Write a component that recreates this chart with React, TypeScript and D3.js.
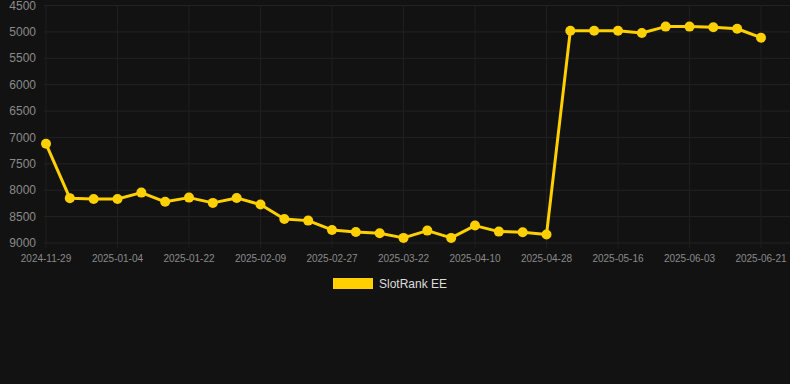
import React from "react";
import * as d3 from "d3";

const dates = [
  "2024-11-29", "2024-12-11", "2024-12-23", "2025-01-04", "2025-01-10", "2025-01-16",
  "2025-01-22", "2025-01-28", "2025-02-03", "2025-02-09", "2025-02-15", "2025-02-21",
  "2025-02-27", "2025-03-07", "2025-03-15", "2025-03-22", "2025-03-29", "2025-04-04",
  "2025-04-10", "2025-04-16", "2025-04-22", "2025-04-28", "2025-05-04", "2025-05-10",
  "2025-05-16", "2025-05-22", "2025-05-28", "2025-06-03", "2025-06-09", "2025-06-15",
  "2025-06-21",
];
const ranks = [
  7120, 8150, 8165, 8165, 8045, 8220, 8140, 8240, 8146, 8272, 8544, 8576,
  8752, 8790, 8815, 8903, 8765, 8903, 8670, 8784, 8795, 8840, 4977, 4977,
  4977, 5020, 4900, 4900, 4913, 4940, 5110,
];
const yTicks = [4500, 5000, 5500, 6000, 6500, 7000, 7500, 8000, 8500, 9000];
const seriesName = "SlotRank EE";

const W = 790;
const H = 384;
const gridLeft = 44;
const gridRight = 790;
const top = 5.5;
const bottom = 243;
const color = "#FFD000";

export default function App() {
  const x = d3.scalePoint<string>().domain(dates).range([46, 761]);
  const y = d3.scaleLinear().domain([4500, 9000]).range([top, bottom]);
  const line = d3
    .line<number>()
    .x((_, i) => x(dates[i]) as number)
    .y((d) => y(d));
  const labeled = dates.filter((_, i) => i % 3 === 0);

  return (
    <svg
      width={W}
      height={H}
      style={{ position: "absolute", left: 0, top: 0, background: "#121212" }}
      fontFamily="Arial, 'Liberation Sans', Helvetica, sans-serif"
    >
      <rect x={0} y={0} width={W} height={H} fill="#121212" />
      {yTicks.map((t) => (
        <line key={"h" + t} x1={gridLeft} x2={gridRight} y1={y(t)} y2={y(t)} stroke="#232323" strokeWidth={1} />
      ))}
      {labeled.map((d) => (
        <line key={"v" + d} x1={x(d)} x2={x(d)} y1={top} y2={bottom + 5} stroke="#1f1f1f" strokeWidth={1} />
      ))}
      {yTicks.map((t) => (
        <text key={"yl" + t} x={36} y={y(t)} dy="0.35em" textAnchor="end" fontSize={12} fill="#8a8a8a">
          {t}
        </text>
      ))}
      {labeled.map((d) => (
        <text key={"xl" + d} x={x(d)} y={262} textAnchor="middle" fontSize={10} fill="#8a8a8a">
          {d}
        </text>
      ))}
      <path d={line(ranks) || ""} fill="none" stroke={color} strokeWidth={3} strokeLinejoin="round" />
      {ranks.map((v, i) => (
        <circle key={"p" + i} cx={x(dates[i])} cy={y(v)} r={5} fill={color} />
      ))}
      <rect x={333} y={278} width={40} height={11} fill={color} />
      <text x={379} y={284} dy="0.35em" fontSize={12} fill="#dddddd">
        {seriesName}
      </text>
    </svg>
  );
}
